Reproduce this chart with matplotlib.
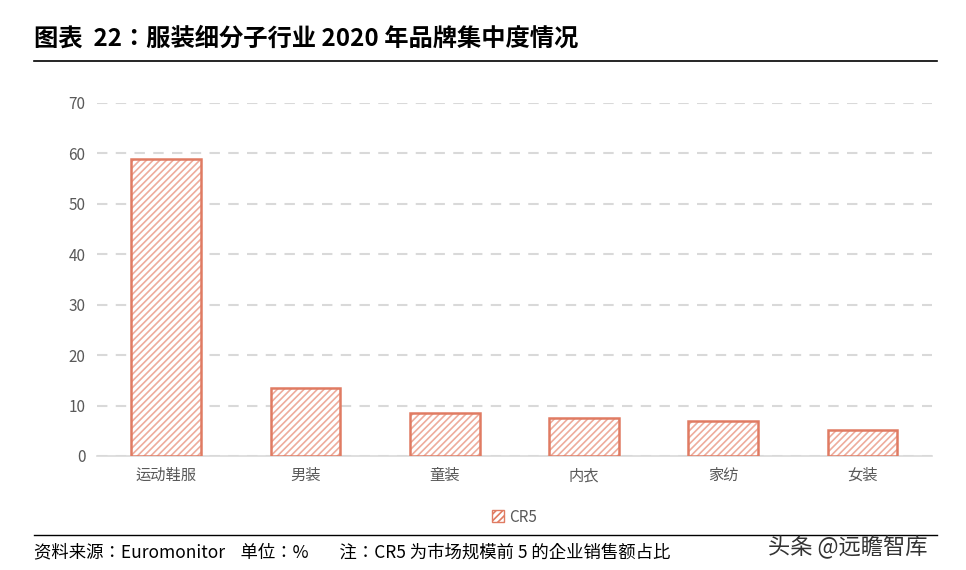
import matplotlib.pyplot as plt
import matplotlib as mpl
from matplotlib import font_manager

names = {f.name for f in font_manager.fontManager.ttflist}
cjk = [n for n in ['Noto Sans CJK SC', 'Noto Sans CJK JP', 'Noto Sans CJK TC',
                   'Noto Sans CJK KR', 'Noto Sans SC', 'Noto Sans JP'] if n in names]
mpl.rcParams['font.family'] = cjk + ['DejaVu Sans']
mpl.rcParams['hatch.linewidth'] = 1.2

categories = ["运动鞋服", "男装", "童装", "内衣", "家纺", "女装"]
cr5 = [58.9, 13.5, 8.5, 7.5, 6.9, 5.2]
yticks = [0, 10, 20, 30, 40, 50, 60, 70]

fig = plt.figure(figsize=(9.66, 5.70), dpi=100)
ax = fig.add_axes([0.1, 0.2, 0.865, 0.62])

edge = '#e07b62'
x = range(len(categories))
ax.bar(x, cr5, width=0.5, facecolor='white', edgecolor='#eeac9c',
       linewidth=0, hatch='/////', zorder=3)
ax.bar(x, cr5, width=0.5, fill=False, edgecolor=edge, linewidth=1.8, zorder=4)
h = mpl.patches.Patch(facecolor='white', edgecolor=edge, hatch='/////', label='CR5')
ax.set_xlim(-0.5, len(categories) - 0.5)
ax.set_ylim(0, 70)
ax.set_yticks(yticks)
ax.set_xticks(list(x))
ax.set_xticklabels(categories)
ax.tick_params(axis='both', length=0, labelsize=11, colors='#595959', pad=8)
ax.grid(axis='y', color='#d9d9d9', linestyle=(0, (5, 4)), linewidth=1.5, zorder=0)
for s in ['top', 'right', 'left']:
    ax.spines[s].set_visible(False)
ax.spines['bottom'].set_color('#d9d9d9')
ax.spines['bottom'].set_linewidth(1.2)
ax.legend(handles=[h], loc='upper center', bbox_to_anchor=(0.5, -0.11), frameon=False,
          fontsize=11, labelcolor='#595959', handlelength=0.8, handleheight=0.8,
          handletextpad=0.3)

fig.text(0.035, 0.92, "图表  22：服装细分子行业 2020 年品牌集中度情况", fontsize=17.5,
         fontweight='bold', color='black')
fig.add_artist(plt.Line2D([0.035, 0.97], [0.893, 0.893], color='black', linewidth=1.2))
fig.add_artist(plt.Line2D([0.035, 0.97], [0.062, 0.062], color='black', linewidth=1))
fig.text(0.035, 0.022, "资料来源：Euromonitor    单位：%        注：CR5 为市场规模前 5 的企业销售额占比",
         fontsize=12.5, color='black')
fig.text(0.795, 0.028, "头条 @远瞻智库", fontsize=16, color='#333333')

fig.savefig("out.png", dpi=100)
